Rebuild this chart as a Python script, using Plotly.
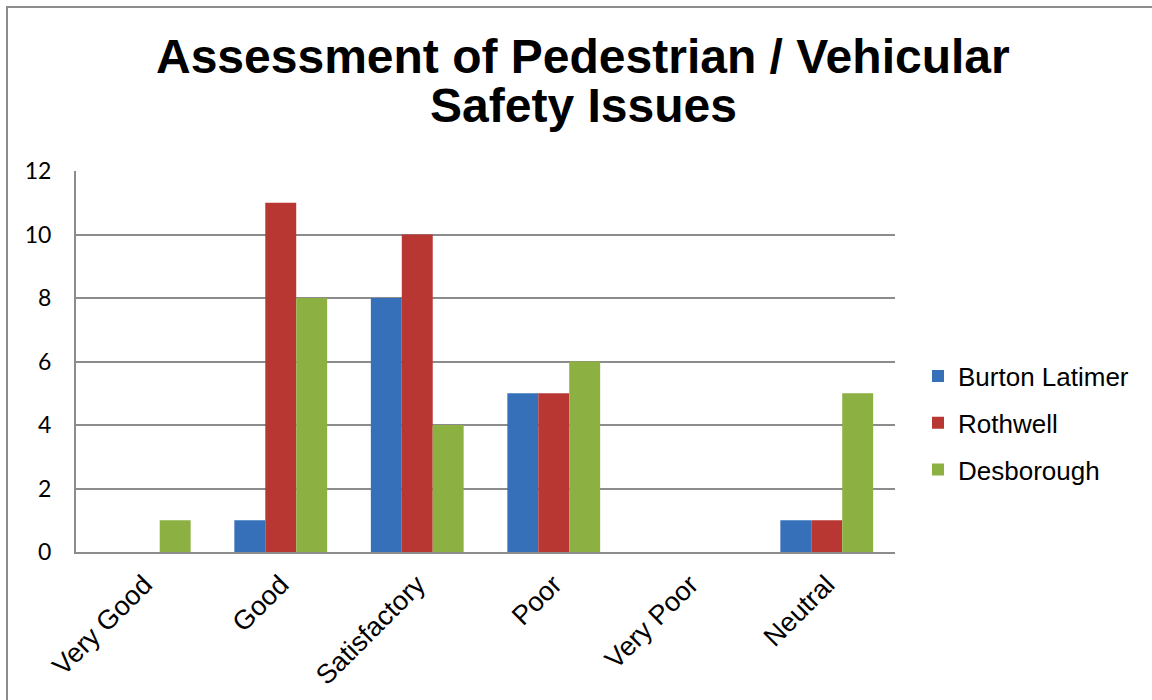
import plotly.graph_objects as go

categories = ["Very Good", "Good", "Satisfactory", "Poor", "Very Poor", "Neutral"]
burton_latimer = [0, 1, 8, 5, 0, 1]
rothwell = [0, 11, 10, 5, 0, 1]
desborough = [1, 8, 4, 6, 0, 5]
y_ticks = [0, 2, 4, 6, 8, 10, 12]
title_lines = ["Assessment of Pedestrian / Vehicular", "Safety Issues"]

series = [
    ("Burton Latimer", burton_latimer, "#3570B8"),
    ("Rothwell", rothwell, "#B93733"),
    ("Desborough", desborough, "#8CB142"),
]

fig = go.Figure()
for i, (name, vals, col) in enumerate(series):
    fig.add_trace(go.Bar(
        x=categories, y=vals, name=name, legendgroup=f"g{i}",
        marker=dict(color=col, line=dict(width=0)),
    ))

L, R, T, B = 76, 257, 171, 148
pw, ph = 1152 - L - R, 700 - T - B

def px_x(x):
    return (x - L) / pw

def px_y(y):
    return (700 - B - y) / ph

title_font = dict(family="Liberation Sans, Arial, sans-serif", size=48, color="black")
annotations = [
    dict(text=f"<b>{title_lines[0]}</b>", xref="paper", yref="paper",
         x=px_x(583), y=px_y(56), xanchor="center", yanchor="middle",
         showarrow=False, font=title_font),
    dict(text=f"<b>{title_lines[1]}</b>", xref="paper", yref="paper",
         x=px_x(583), y=px_y(106), xanchor="center", yanchor="middle",
         showarrow=False, font=title_font),
]

fig.update_layout(
    width=1152, height=700,
    margin=dict(l=L, r=R, t=T, b=B),
    paper_bgcolor="white", plot_bgcolor="white",
    barmode="group", bargap=0.32, bargroupgap=0,
    annotations=annotations,
    legend=dict(
        x=(918 - L) / pw, xanchor="left",
        y=(700 - B - 423) / ph, yanchor="middle",
        font=dict(family="Liberation Sans, Arial, sans-serif", size=26, color="black"),
        traceorder="grouped", tracegroupgap=10,
        bgcolor="rgba(0,0,0,0)",
    ),
    xaxis=dict(
        tickangle=-45, automargin=False,
        tickfont=dict(family="Liberation Sans, Arial, sans-serif", size=27, color="black"),
        showline=True, linecolor="#8C8C8C", linewidth=2,
        ticks="", showgrid=False, ticklabelstandoff=4,
    ),
    yaxis=dict(
        range=[0, 12], tickvals=y_ticks, automargin=False,
        tickfont=dict(family="Lato, Open Sans, sans-serif", size=23, color="black"),
        showline=True, linecolor="#8C8C8C", linewidth=2,
        showgrid=True, gridcolor="#8C8C8C", gridwidth=2,
        ticks="", ticklabelstandoff=18, zeroline=False,
    ),
    shapes=[dict(
        type="rect", xref="paper", yref="paper",
        x0=px_x(7), x1=2.0,
        y0=-2.0, y1=px_y(7),
        line=dict(color="#8C8C8C", width=2), fillcolor="rgba(0,0,0,0)",
        layer="below",
    )],
)

fig.write_html("out.html", config={"displayModeBar": False},
               post_script="document.body.style.margin='0';")
